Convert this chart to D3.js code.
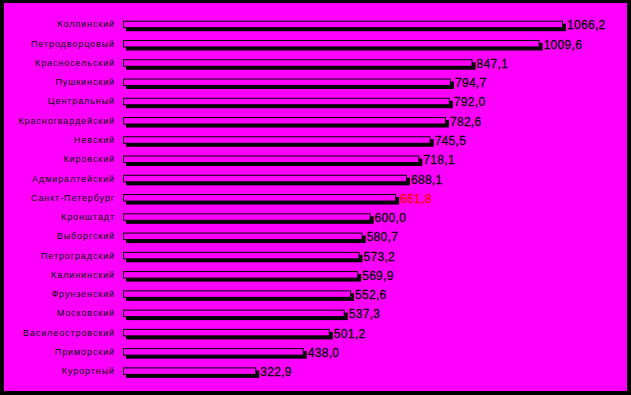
<!DOCTYPE html>
<html><head><meta charset="utf-8">
<script src="https://cdn.jsdelivr.net/npm/d3@7/dist/d3.min.js"></script>
<style>body{margin:0;background:#000}svg{display:block}</style>
</head><body>
<svg id="c" width="631" height="395"></svg>
<script>
const categories = ["Колпинский","Петродворцовый","Красносельский","Пушкинский","Центральный","Красногвардейский","Невский","Кировский","Адмиралтейский","Санкт-Петербург","Кронштадт","Выборгский","Петроградский","Калининский","Фрунзенский","Московский","Василеостровский","Приморский","Курортный"];
const values = [1066.2,1009.6,847.1,794.7,792.0,782.6,745.5,718.1,688.1,661.8,600.0,580.7,573.2,569.9,552.6,537.3,501.2,438.0,322.9];
const highlight = "Санкт-Петербург";

const svg = d3.select("#c");
svg.append("rect").attr("x",0).attr("y",0).attr("width",631).attr("height",395).attr("fill","#000");
svg.append("rect").attr("x",4).attr("y",3).attr("width",623).attr("height",388).attr("fill","#FF00FF");

const x = d3.scaleLinear().domain([0,1066.2]).range([123,563]);
const y = d3.scaleBand().domain(categories).range([20.7,374.9]).paddingInner(0.61).paddingOuter(0);
const bw = y.bandwidth();
const data = categories.map((c,i)=>({c, v: values[i]}));

const g = svg.append("g");
g.selectAll("rect.sh").data(data).join("rect").attr("class","sh")
  .attr("x", x(0)+3).attr("y", d=>y(d.c)+3)
  .attr("width", d=>x(d.v)-x(0)).attr("height", bw).attr("fill","#000");
g.selectAll("rect.bar").data(data).join("rect").attr("class","bar")
  .attr("x", x(0)+0.5).attr("y", d=>y(d.c)+0.5)
  .attr("width", d=>x(d.v)-x(0)-1).attr("height", bw-1)
  .attr("fill","#FF00FF").attr("stroke","#000").attr("stroke-width",1);

g.selectAll("text.lab").data(data).join("text").attr("class","lab")
  .attr("x",115).attr("y", d=>y(d.c)+bw/2)
  .attr("text-anchor","end").attr("dominant-baseline","central")
  .attr("font-family","Liberation Sans, Arial, sans-serif").attr("font-size",9)
  .attr("letter-spacing",0.9)
  .attr("fill","#000")
  .text(d=>d.c);

const fmt = v => v.toFixed(1).replace(".", ",");
g.selectAll("text.val").data(data).join("text").attr("class","val")
  .attr("x", d=>x(d.v)+4).attr("y", d=>y(d.c)+bw/2+1)
  .attr("dominant-baseline","central")
  .attr("font-family","Liberation Sans, Arial, sans-serif").attr("font-size",12)
  .attr("letter-spacing",0.3)
  .attr("fill", d=>d.c===highlight?"#FF0000":"#000")
  .attr("stroke", d=>d.c===highlight?"#FF0000":"#000").attr("stroke-width",0.3)
  .text(d=>fmt(d.v));
</script>
</body></html>
